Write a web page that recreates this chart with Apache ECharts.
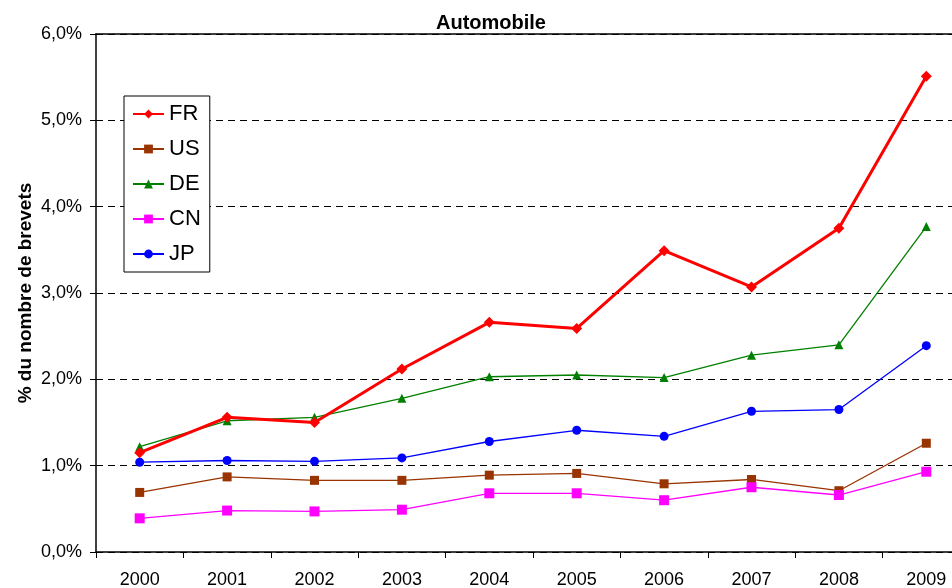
<!DOCTYPE html>
<html lang="fr">
<head>
    <meta charset="UTF-8">
    <title>Automobile</title>
    <script src="https://cdn.jsdelivr.net/npm/echarts@6/dist/echarts.min.js"></script>
    <style type="text/css">
        html, body { margin: 0; padding: 0; background: #fff; }
        #main { width: 952px; height: 588px; }
    </style>
</head>
<body>
<div id="main"></div>
<script type="text/javascript">
    // années
    var years = ['2000', '2001', '2002', '2003', '2004', '2005', '2006', '2007', '2008', '2009'];
    // parts en %
    var frData = [1.15, 1.56, 1.50, 2.12, 2.66, 2.59, 3.49, 3.07, 3.75, 5.51];
    var usData = [0.69, 0.87, 0.83, 0.83, 0.89, 0.91, 0.79, 0.84, 0.71, 1.26];
    var deData = [1.22, 1.52, 1.56, 1.78, 2.03, 2.05, 2.02, 2.28, 2.40, 3.77];
    var cnData = [0.39, 0.48, 0.47, 0.49, 0.68, 0.68, 0.60, 0.75, 0.66, 0.93];
    var jpData = [1.04, 1.06, 1.05, 1.09, 1.28, 1.41, 1.34, 1.63, 1.65, 2.39];
    var yTicks = [0, 1, 2, 3, 4, 5, 6];

    var font = 'Arial, "Liberation Sans", sans-serif';
    var myChart = echarts.init(document.getElementById('main'));

    function serie(name, data, color, symbol, size, width, z) {
        return {
            name: name,
            type: 'line',
            data: data,
            symbol: symbol,
            symbolSize: size,
            z: z,
            itemStyle: { color: color },
            lineStyle: { color: color, width: width },
            emphasis: { disabled: true },
            animation: false
        };
    }

    var option = {
        backgroundColor: '#fff',
        title: {
            text: 'Automobile',
            left: 431,
            top: 8,
            textStyle: { fontFamily: font, fontWeight: 'bold', fontSize: 20, color: '#000' }
        },
        legend: {
            orient: 'vertical',
            left: 124,
            top: 96,
            padding: [7, 9, 7, 8],
            itemGap: 13,
            itemWidth: 31,
            itemHeight: 11,
            borderColor: '#000',
            borderWidth: 1,
            backgroundColor: '#fff',
            textStyle: { fontFamily: font, fontSize: 22, color: '#000', lineHeight: 22 },
            data: ['FR', 'US', 'DE', 'CN', 'JP']
        },
        grid: {
            left: 96,
            top: 34,
            right: -18,
            bottom: 36,
            containLabel: false,
            outerBoundsMode: 'none'
        },
        xAxis: [{
            type: 'category',
            data: years,
            boundaryGap: true,
            axisLine: { lineStyle: { color: '#000', width: 1.5 } },
            axisTick: { show: true, inside: false, length: 6, lineStyle: { color: '#000' } },
            axisLabel: { color: '#000', fontFamily: font, fontSize: 18, margin: 19 }
        }, {
            type: 'category',
            data: years,
            position: 'top',
            axisLine: { lineStyle: { color: '#000', width: 1.5 } },
            axisTick: { show: false },
            axisLabel: { show: false }
        }],
        yAxis: {
            type: 'value',
            min: yTicks[0],
            max: yTicks[yTicks.length - 1],
            interval: 1,
            name: '% du nombre de brevets',
            nameLocation: 'middle',
            nameGap: 61,
            nameMoveOverlap: false,
            nameTextStyle: { fontFamily: font, fontWeight: 'bold', fontSize: 19, color: '#000' },
            axisLine: { show: true, lineStyle: { color: '#000', width: 1.5 } },
            axisTick: { show: true, length: 6, lineStyle: { color: '#000' } },
            axisLabel: {
                color: '#000', fontFamily: font, fontSize: 18, margin: 14,
                formatter: function (v) { return v.toFixed(1).replace('.', ',') + '%'; }
            },
            splitLine: { show: true, lineStyle: { color: '#000', type: [7, 5], width: 1 } }
        },
        series: [
            serie('FR', frData, '#ff0000', 'diamond', 11, 3, 10),
            serie('US', usData, '#993300', 'rect', 9, 1.3, 5),
            serie('DE', deData, '#008000', 'triangle', 9, 1.3, 6),
            serie('CN', cnData, '#ff00ff', 'rect', 10, 1.3, 7),
            serie('JP', jpData, '#0000ff', 'circle', 9, 1.3, 8)
        ]
    };
    myChart.setOption(option);
</script>
</body>
</html>
